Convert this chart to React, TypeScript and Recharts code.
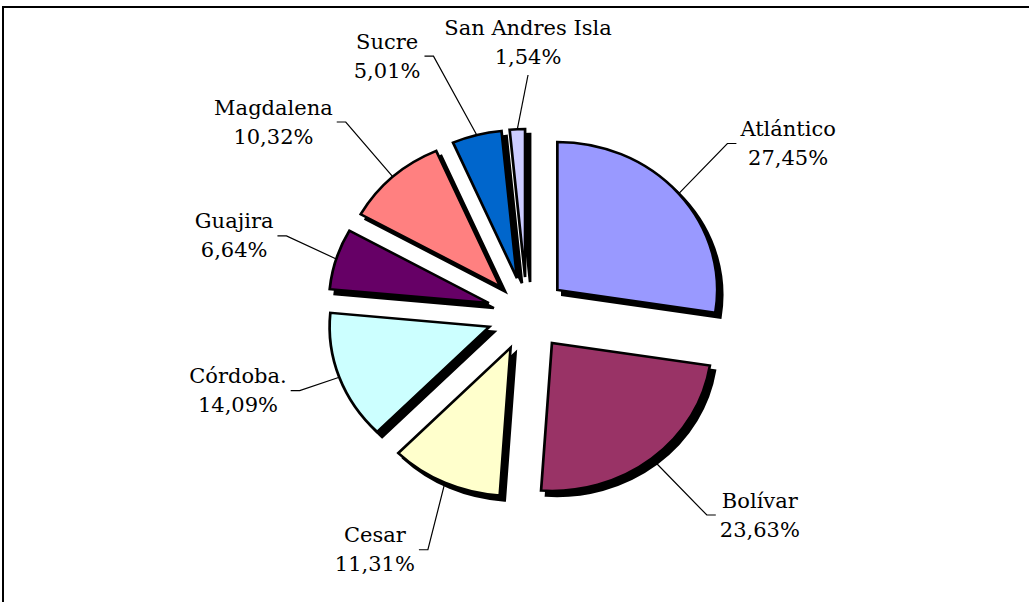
import { PieChart, Pie, Sector } from 'recharts'

const REGIONS = ['Atlántico', 'Bolívar', 'Cesar', 'Córdoba.', 'Guajira', 'Magdalena', 'Sucre', 'San Andres Isla']
const SHARES = [27.45, 23.63, 11.31, 14.09, 6.64, 10.32, 5.01, 1.54]
const COLORS = ['#9999FF', '#993366', '#FFFFCC', '#CCFFFF', '#660066', '#FF8080', '#0066CC', '#CCCCFF']
// where each label sits: distance from centre and a small angle nudge (deg), like the hand-placed originals
const LABEL_DIST = [252, 261, 253, 224, 236, 255, 272, 239]
const LABEL_NUDGE = [2, 1, 3, 0, -2, -1, 4, -3]

const data = REGIONS.map((name, i) => ({ name, value: SHARES[i] }))

const W = 1029
const H = 602
const CX = 527
const CY = 314
const R = 148
const EXPLODE = 37
const SX = 1.08 // original pie is slightly wider than tall
const FONT = '"DejaVu Serif", serif'
const FONT_SIZE = 21
const LINE_H = 29
const RAD = Math.PI / 180

const fmt = (v: number) => `${v.toFixed(2).replace('.', ',')}%`

const ctx = typeof document !== 'undefined' ? document.createElement('canvas').getContext('2d') : null
const textWidth = (s: string) => {
  if (!ctx) return s.length * FONT_SIZE * 0.6
  ctx.font = `${FONT_SIZE}px ${FONT}`
  return ctx.measureText(s).width
}

const stretch = `translate(${CX} ${CY}) scale(${SX} 1) translate(${-CX} ${-CY})`

const sliceLabel = (shadow: boolean) => (p: any) => {
  const dx = EXPLODE * Math.cos(-p.midAngle * RAD)
  const dy = EXPLODE * Math.sin(-p.midAngle * RAD)
  return (
    <g transform={(shadow ? 'translate(5 5) ' : '') + stretch}>
      <Sector
        cx={p.cx + dx}
        cy={p.cy + dy}
        innerRadius={0}
        outerRadius={p.outerRadius}
        startAngle={p.startAngle}
        endAngle={p.endAngle}
        fill={shadow ? '#000' : COLORS[p.index]}
        stroke="#000"
        strokeWidth={2.5}
        strokeLinejoin="miter"
      />
    </g>
  )
}

const textLabel = (p: any) => {
  const i = p.index
  const edge = p.outerRadius + EXPLODE
  const sx = p.cx + SX * edge * Math.cos(-p.midAngle * RAD)
  const sy = p.cy + edge * Math.sin(-p.midAngle * RAD)
  const a = (p.midAngle + LABEL_NUDGE[i]) * RAD
  const bx = p.cx + SX * LABEL_DIST[i] * Math.cos(-a)
  const by = p.cy + LABEL_DIST[i] * Math.sin(-a)
  const c = Math.cos(-a)
  const side = Math.abs(c) < 0.2 ? 0 : c > 0 ? 1 : -1
  const lines = [REGIONS[i], fmt(SHARES[i])]
  const w = Math.max(...lines.map(textWidth))

  let tx = bx
  let ty = by - 18 - LINE_H
  let pts = `${sx},${sy} ${bx},${by}`
  if (side !== 0) {
    tx = bx + side * (13 + w / 2)
    ty = by - LINE_H / 2
    pts += ` ${bx + side * 9},${by}`
  }
  return (
    <g>
      <polyline points={pts} fill="none" stroke="#000" strokeWidth={1.2} />
      {lines.map((s, k) => (
        <text key={k} x={tx} y={ty + k * LINE_H} textAnchor="middle" dominantBaseline="central"
          fontFamily={FONT} fontSize={FONT_SIZE} fill="#000">
          {s}
        </text>
      ))}
    </g>
  )
}

export default function App() {
  return (
    <div style={{ position: 'absolute', left: 0, top: 0, width: W, height: H, overflow: 'hidden', background: '#fff' }}>
      <div style={{ position: 'absolute', left: 2, top: 6, width: W + 40, height: H + 40, borderLeft: '2px solid #000', borderTop: '2px solid #000' }} />
      <div style={{ position: 'absolute', left: 0, top: 0 }}>
        <PieChart width={W} height={H} margin={{ top: 0, right: 0, bottom: 0, left: 0 }}>
          {/* shadows first, then the exploded slices, then the labels */}
          <Pie data={data} dataKey="value" nameKey="name" cx={CX} cy={CY} outerRadius={R} startAngle={90} endAngle={-270}
            fill="none" stroke="none" label={sliceLabel(true)} labelLine={false} isAnimationActive={false} />
          <Pie data={data} dataKey="value" nameKey="name" cx={CX} cy={CY} outerRadius={R} startAngle={90} endAngle={-270}
            fill="none" stroke="none" label={sliceLabel(false)} labelLine={false} isAnimationActive={false} />
          <Pie data={data} dataKey="value" nameKey="name" cx={CX} cy={CY} outerRadius={R} startAngle={90} endAngle={-270}
            fill="none" stroke="none" label={textLabel} labelLine={false} isAnimationActive={false} />
        </PieChart>
      </div>
    </div>
  )
}
